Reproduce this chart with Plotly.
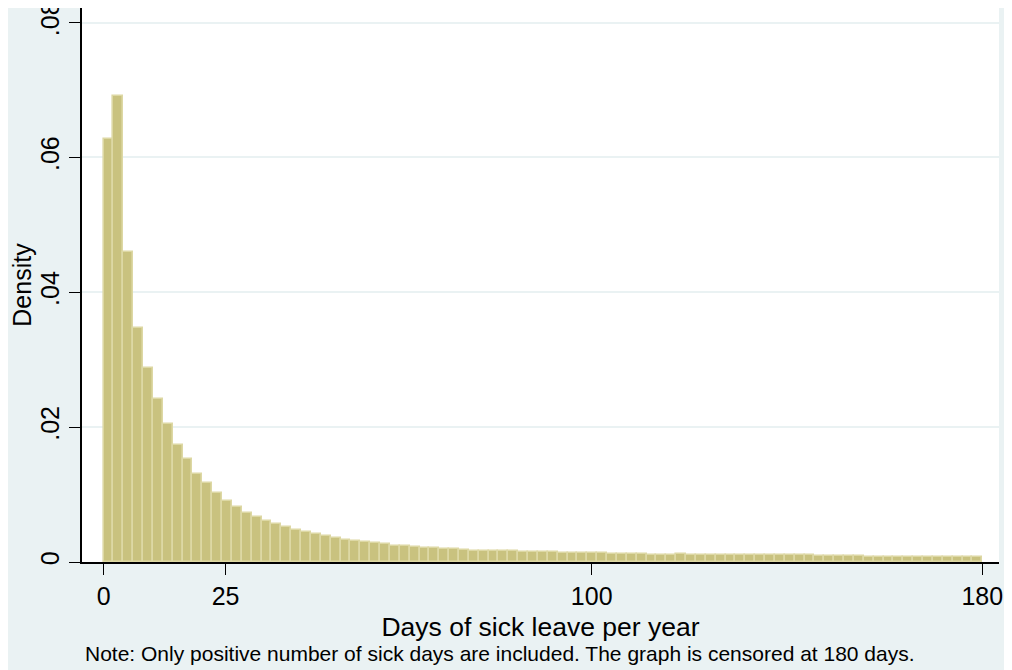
import plotly.graph_objects as go

# Histogram (density) of sick-leave days, 89 bins between 0 and 180
bin_start = 0.0
bin_end = 180.0
density = [
    0.0627, 0.0691, 0.0459, 0.0347, 0.0287, 0.0241, 0.0204, 0.0173, 0.0152, 0.0131,
    0.0117, 0.0103, 0.0091, 0.0082, 0.0073, 0.00668, 0.00608, 0.00564, 0.00519, 0.00475,
    0.00440, 0.00411, 0.00381, 0.00351, 0.00331, 0.00307, 0.00292, 0.00277, 0.00262, 0.00242,
    0.00237, 0.00223, 0.00208, 0.00203, 0.00193, 0.00188, 0.00178, 0.00168, 0.00163, 0.00160,
    0.00158, 0.00157, 0.00152, 0.00146, 0.00144, 0.00145, 0.00138, 0.00135, 0.00131, 0.00128,
    0.00128, 0.00124, 0.00120, 0.00112, 0.00112, 0.00110, 0.00110, 0.00108, 0.00112, 0.00110,
    0.00104, 0.00098, 0.00104, 0.00102, 0.00100, 0.00102, 0.00100, 0.00110, 0.00104, 0.00098,
    0.00097, 0.00098, 0.00096, 0.00094, 0.00090, 0.00084, 0.00082, 0.00081, 0.00080, 0.00080,
    0.00079, 0.00078, 0.00078, 0.00074, 0.00072, 0.00071, 0.00070, 0.00069, 0.00068,
]
x_tickvals = [0, 25, 100, 180]
x_ticktext = ["0", "25", "100", "180"]
y_tickvals = [0, 0.02, 0.04, 0.06, 0.08]
y_ticktext = ["0", ".02", ".04", ".06", ".08"]
x_title = "Days of sick leave per year"
y_title = "Density"
note = "Note: Only positive number of sick days are included. The graph is censored at 180 days."

n_bins = len(density)
width = (bin_end - bin_start) / n_bins
centers = [bin_start + width * (i + 0.5) for i in range(n_bins)]

FONT = "Liberation Sans, Arial, sans-serif"
BG = "#EAF2F3"

fig = go.Figure()
fig.add_trace(go.Bar(
    x=centers, y=density, width=width,
    marker=dict(color="#C9C27F", line=dict(color="#DDD8A4", width=1.6)),
    hoverinfo="skip",
))

fig.update_layout(
    width=1012, height=670,
    margin=dict(l=74, r=21, t=0, b=116),
    paper_bgcolor=BG, plot_bgcolor="white",
    bargap=0, showlegend=False,
    font=dict(family=FONT, color="black", size=25),
    xaxis=dict(
        range=[-4.42, 183.43], tickvals=x_tickvals, ticktext=x_ticktext,
        ticks="outside", ticklen=11, tickwidth=1.3, tickcolor="black",
        showline=True, linecolor="black", linewidth=1.5,
        showgrid=False, zeroline=False, automargin=False,
        ticklabeloverflow="allow",
        tickfont=dict(size=25),
        title=dict(text=x_title, font=dict(size=26.5), standoff=9),
    ),
    yaxis=dict(
        range=[0, 0.08215], tickvals=y_tickvals, ticktext=y_ticktext,
        tickangle=-90,
        ticks="outside", ticklen=11, tickwidth=1.3, tickcolor="black",
        showline=True, linecolor="black", linewidth=1.5,
        showgrid=True, gridcolor=BG, gridwidth=2, zeroline=False, automargin=False,
        ticklabeloverflow="allow",
        tickfont=dict(size=25),
        title=dict(text=y_title, font=dict(size=25), standoff=2),
    ),
    annotations=[dict(
        text=note, xref="paper", yref="paper", x=0.4558, y=-0.1643,
        xanchor="center", yanchor="middle", showarrow=False,
        font=dict(size=21, family=FONT, color="black"),
    )],
)

fig.write_html("out.html")
